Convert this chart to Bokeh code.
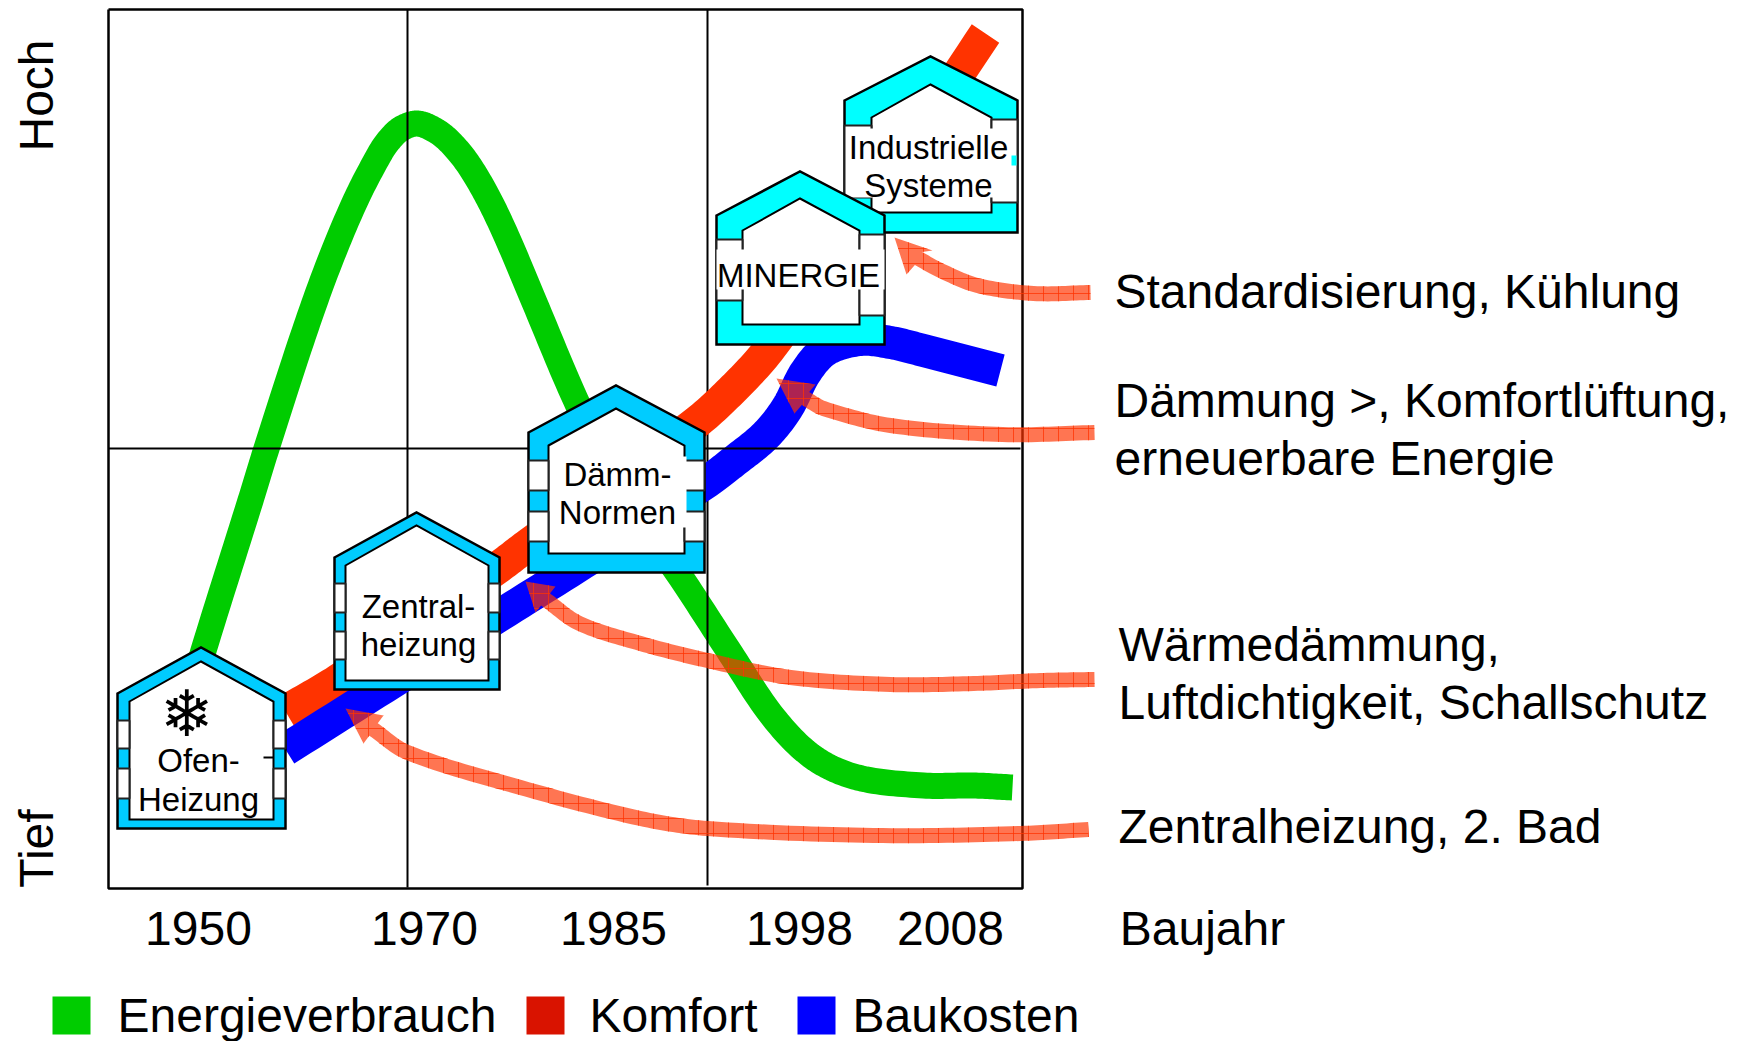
import numpy as np
from bokeh.plotting import figure
from bokeh.layouts import column
from bokeh.embed import file_html
from bokeh.resources import INLINE
from bokeh.core.properties import value
from bokeh.models import FixedTicker

# ---- chart content (drawing-area units) ----
years = ["1950", "1970", "1985", "1998", "2008", "Baujahr"]
year_pos = [198, 424, 613, 799, 950, 1202]
level_labels = ["Hoch", "Tief"]
level_pos = [95, 848]

energie_x = [195, 203, 250, 266, 301, 327, 355, 380, 390, 401, 417, 435, 450, 468, 488, 507, 534, 575, 622, 677, 730, 773, 813, 857, 923, 973, 1012]
energie_y = [680, 650, 500, 448, 340, 267, 200, 152, 138, 128, 123, 130, 142, 164, 198, 238, 302, 399, 495, 572, 653, 717, 757, 777, 785, 785, 787]
komfort_x = [285, 345, 499, 528, 692, 733, 770, 870, 985]
komfort_y = [711, 675, 566, 544, 425, 388, 347, 205, 33]
kosten_x = [285, 417, 499, 610, 707, 732, 765, 787, 805, 826, 860, 890, 923, 1000]
kosten_y = [749, 666, 615, 545, 481, 462, 435, 407, 372, 349, 339, 342, 350, 370]

legend_names = ["Energieverbrauch", "Komfort", "Baukosten"]
legend_colors = ["#00CC00", "#D91300", "#0000FF"]
legend_left = [52, 526, 797]
legend_text_x = [117, 589, 852]

notes = ["Standardisierung, Kühlung", "Dämmung >, Komfortlüftung,", "erneuerbare Energie",
         "Wärmedämmung,", "Luftdichtigkeit, Schallschutz", "Zentralheizung, 2. Bad"]
note_x = [1114, 1114, 1114, 1118, 1118, 1118]
note_y = [291, 400, 458, 644, 702, 826]

house_words = ["Ofen-", "Heizung", "Zentral-", "heizung", "Dämm-", "Normen", "MINERGIE", "Industrielle", "Systeme"]
house_word_x = [198, 198, 418, 418, 617, 617, 798, 928, 928]
house_word_y = [760, 799, 606, 644, 474, 512, 275, 147, 185]

# ---- layout and styles ----
FONT = "Liberation Sans"
TEXT_PX = "48px"
LEFT, RIGHT, TOP, BOTTOM = 48, 1745, 0, 892
MAIN_H = 962

p = figure(width=1745, height=MAIN_H, output_backend="svg", toolbar_location=None,
           x_range=(LEFT, RIGHT), y_range=(BOTTOM, TOP),
           min_border_left=LEFT, min_border_right=0, min_border_top=0,
           min_border_bottom=MAIN_H - BOTTOM)
p.outline_line_color = None
p.grid.visible = False
p.background_fill_color = "white"

p.xaxis.ticker = FixedTicker(ticks=year_pos)
p.xaxis.major_label_overrides = dict(zip(year_pos, years))
p.yaxis.ticker = FixedTicker(ticks=level_pos)
p.yaxis.major_label_overrides = dict(zip(level_pos, level_labels))
p.yaxis.major_label_orientation = "parallel"
for ax in (p.xaxis, p.yaxis):
    ax.axis_line_color = None
    ax.major_tick_line_color = None
    ax.minor_tick_line_color = None
    ax.major_label_text_font = FONT
    ax.major_label_text_font_size = TEXT_PX
    ax.major_label_text_color = "black"
p.xaxis.major_label_standoff = 3
p.yaxis.major_label_standoff = -20


def smooth(xs, ys, n=16):
    """Hermite curve through the read points, with chord-length tangents."""
    pts = np.column_stack([xs, ys]).astype(float)
    t = np.concatenate([[0], np.cumsum(np.hypot(*np.diff(pts, axis=0).T))])
    m = np.zeros_like(pts)
    m[1:-1] = (pts[2:] - pts[:-2]) / (t[2:] - t[:-2])[:, None]
    m[0] = (pts[1] - pts[0]) / (t[1] - t[0])
    m[-1] = (pts[-1] - pts[-2]) / (t[-1] - t[-2])
    out = []
    for i in range(len(pts) - 1):
        h = t[i + 1] - t[i]
        for u in np.linspace(0, 1, n, endpoint=False):
            out.append((2 * u**3 - 3 * u**2 + 1) * pts[i] + (u**3 - 2 * u**2 + u) * h * m[i]
                       + (-2 * u**3 + 3 * u**2) * pts[i + 1] + (u**3 - u**2) * h * m[i + 1])
    out.append(pts[-1])
    out = np.array(out)
    return out[:, 0], out[:, 1]


def band(xs, ys, color, width):
    sx, sy = smooth(xs, ys)
    p.line(sx, sy, line_color=color, line_width=width, line_cap="butt", line_join="round")


# bands and rules
band(energie_x, energie_y, "#00CC00", 26)
p.segment(x0=[407, 707], y0=[9, 9], x1=[407, 707], y1=[887, 885], line_color="black", line_width=2)
band(komfort_x, komfort_y, "#FF3300", 33)
band(kosten_x, kosten_y, "#0000FF", 33)
p.segment(x0=[108], y0=[448], x1=[1020], y1=[448], line_color="black", line_width=2)
p.line([108, 1022, 1022, 108, 108], [9, 9, 888, 888, 9], line_color="black", line_width=2.5)


def house(outer, inner, windows_l, windows_r, color, boxes=(), stripes=()):
    ox0, ox1, ob, oe, oa = outer
    ix0, ix1, ib, ie, ia = inner
    amx = (ox0 + ox1) / 2 - 0.5
    p.patch([ox0, amx, ox1, ox1, ox0], [oe, oa, oe, ob, ob], fill_color=color,
            line_color="black", line_width=2.5, line_join="miter")
    p.patch([ix0, amx, ix1, ix1, ix0], [ie, ia, ie, ib, ib], fill_color="white",
            line_color="black", line_width=2, line_join="miter")
    for y0, y1 in windows_l:
        p.quad(left=ox0, right=ix0, top=y0, bottom=y1, fill_color="white", line_color="#222222", line_width=2)
    for y0, y1 in windows_r:
        p.quad(left=ix1, right=ox1, top=y0, bottom=y1, fill_color="white", line_color="#222222", line_width=2)
    for x0, x1, y0, y1 in boxes:
        p.quad(left=x0, right=x1, top=y0, bottom=y1, fill_color="white", line_color=None)
    for x0, x1, y0, y1 in stripes:
        p.quad(left=x0, right=x1, top=y0, bottom=y1, fill_color=color, line_color=None)


SKY = "#00CCFF"
CYAN = "#00FFFF"
house((117, 285, 828, 693, 647), (129, 273, 819, 701, 661), [(720, 748), (768, 798)], [(720, 748), (768, 798)], SKY)
house((334, 499, 689, 557, 512), (345, 488, 680, 565, 525), [(583, 612), (631, 659)], [(583, 612), (631, 659)], SKY)
house((528, 704, 572, 432, 385), (548, 684, 553, 445, 408), [(460, 490), (511, 541)], [(460, 490), (511, 541)], SKY,
      boxes=[(680, 686, 456, 527)])
house((844, 1017, 232, 100, 56), (871, 991, 212, 117, 84), [(125, 197)], [(119, 202)], CYAN,
      boxes=[(847, 1012, 128, 197)], stripes=[(1011, 1016, 155, 165)])
house((716, 884, 344, 215, 171), (742, 859, 324, 230, 198), [(239, 300)], [(234, 315)], CYAN,
      boxes=[(716, 884, 249, 289)])

p.segment(x0=[263], y0=[757], x1=[273], y1=[757], line_color="black", line_width=2)
p.text(x=[186], y=[713], text=["\u2744"], text_font=value("DejaVu Sans"), text_font_size="64px",
       text_align="center", text_baseline="middle", text_color="black")
p.text(x=house_word_x, y=house_word_y, text=house_words, text_font=value(FONT), text_font_size="33px",
       text_align="center", text_baseline="middle", text_color="black")


def arrow(xs, ys, corner_a, tip, corner_b, half=7.5):
    sx, sy = smooth(xs, ys)
    dx, dy = np.gradient(sx), np.gradient(sy)
    ln = np.hypot(dx, dy) + 1e-9
    nx, ny = -dy / ln, dx / ln
    side1 = (sx + half * nx, sy + half * ny)
    side2 = (sx - half * nx, sy - half * ny)
    px_ = list(side1[0]) + [corner_a[0], tip[0], corner_b[0]] + list(side2[0][::-1])
    py_ = list(side1[1]) + [corner_a[1], tip[1], corner_b[1]] + list(side2[1][::-1])
    p.patch(px_, py_, fill_color="#FF3300", fill_alpha=0.68, line_color=None,
            hatch_pattern="cross", hatch_scale=15, hatch_color="#FF3300", hatch_alpha=0.75, hatch_weight=1)


arrow([1088, 1020, 873, 707, 640, 520, 407, 373], [829, 833, 835, 828, 818, 787, 752, 729], (383, 715), (345, 708), (363, 743))
arrow([1094, 1040, 973, 890, 790, 707, 640, 579, 545], [679, 680, 683, 684, 677, 660, 643, 623, 599], (555, 586), (525, 581), (535, 612))
arrow([1094, 1002, 890, 823, 805], [432, 434, 425, 408, 398], (815, 384), (776, 378), (794, 413))
arrow([1090, 1033, 977, 940, 918], [292, 293, 285, 270, 258], (932, 250), (894, 237), (906, 274))

p.text(x=note_x, y=note_y, text=notes, text_font=value(FONT), text_font_size=TEXT_PX,
       text_align="left", text_baseline="middle", text_color="black")

# legend strip under the chart (the column lines its frame up with the chart's frame)
q = figure(width=1745, height=1041 - MAIN_H, output_backend="svg", toolbar_location=None,
           x_range=(LEFT, RIGHT), y_range=(1041, MAIN_H), x_axis_type=None, y_axis_type=None,
           min_border=0)
q.outline_line_color = None
q.grid.visible = False
q.quad(left=legend_left, right=[v + 38 for v in legend_left], top=[996] * 3, bottom=[1034] * 3,
       fill_color=legend_colors, line_color=None)
q.text(x=legend_text_x, y=[1015] * 3, text=legend_names, text_font=value(FONT), text_font_size=TEXT_PX,
       text_align="left", text_baseline="middle", text_color="black")

open("out.html", "w").write(file_html(column(p, q, spacing=0), INLINE))
